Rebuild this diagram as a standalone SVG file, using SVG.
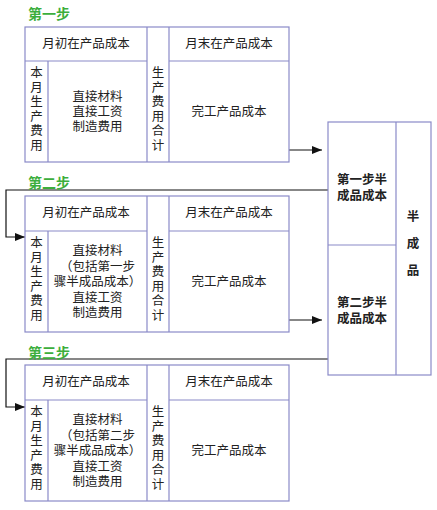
<svg xmlns="http://www.w3.org/2000/svg" width="437" height="510" viewBox="0 0 437 510" xml:lang="zh-CN" lang="zh-CN">
<style>
.b{fill:#fff;stroke:#8a8ac8;stroke-width:1.2}
.l{stroke:#8a8ac8;stroke-width:1.2;fill:none}
.t{font-family:"Liberation Sans","Noto Sans CJK SC",sans-serif;font-size:12.5px;fill:#222;text-anchor:middle;dominant-baseline:central}
.s{font-family:"Liberation Sans","Noto Sans CJK SC",sans-serif;font-size:14px;font-weight:bold;fill:#3cae3c}
.bt{font-weight:bold}
.c{stroke:#111;stroke-width:1.2;fill:none}
</style>
<defs>
<marker id="a" markerWidth="10" markerHeight="8" refX="10" refY="4" orient="auto" markerUnits="userSpaceOnUse">
<path d="M0,0 L10,4 L0,8 Z" fill="#111"/>
</marker>
</defs>
<g id="connectors">
<line class="c" x1="289" y1="150" x2="322" y2="150" marker-end="url(#a)"/>
<polyline class="c" points="328,190 6,190 6,237 25,237" marker-end="url(#a)"/>
<line class="c" x1="289" y1="320" x2="322" y2="320" marker-end="url(#a)"/>
<polyline class="c" points="328,359 6,359 6,407 25,407" marker-end="url(#a)"/>
</g>
<g id="step1">
<text class="s" x="28" y="19">第一步</text>
<rect class="b" x="25" y="27" width="264" height="135"/>
<path class="l" d="M25,61H147M169,61H289M48,61V162M147,27V162M169,27V162"/>
<text class="t" x="86" y="44">月初在产品成本</text>
<text class="t" x="229" y="44">月末在产品成本</text>
<text class="t"><tspan x="36.5" y="73">本</tspan><tspan x="36.5" y="87.6">月</tspan><tspan x="36.5" y="102.2">生</tspan><tspan x="36.5" y="116.8">产</tspan><tspan x="36.5" y="131.4">费</tspan><tspan x="36.5" y="146">用</tspan></text>
<text class="t"><tspan x="158" y="73">生</tspan><tspan x="158" y="87.6">产</tspan><tspan x="158" y="102.2">费</tspan><tspan x="158" y="116.8">用</tspan><tspan x="158" y="131.4">合</tspan><tspan x="158" y="146">计</tspan></text>
<text class="t"><tspan x="97.5" y="97">直接材料</tspan><tspan x="97.5" y="112">直接工资</tspan><tspan x="97.5" y="127">制造费用</tspan></text>
<text class="t" x="229" y="112">完工产品成本</text>
</g>
<g id="step2">
<text class="s" x="28" y="188">第二步</text>
<rect class="b" x="25" y="196" width="264" height="136"/>
<path class="l" d="M25,231H147M169,231H289M48,231V332M147,196V332M169,196V332"/>
<text class="t" x="86" y="213">月初在产品成本</text>
<text class="t" x="229" y="213">月末在产品成本</text>
<text class="t"><tspan x="36.5" y="243">本</tspan><tspan x="36.5" y="257.6">月</tspan><tspan x="36.5" y="272.2">生</tspan><tspan x="36.5" y="286.8">产</tspan><tspan x="36.5" y="301.4">费</tspan><tspan x="36.5" y="316">用</tspan></text>
<text class="t"><tspan x="158" y="243">生</tspan><tspan x="158" y="257.6">产</tspan><tspan x="158" y="272.2">费</tspan><tspan x="158" y="286.8">用</tspan><tspan x="158" y="301.4">合</tspan><tspan x="158" y="316">计</tspan></text>
<text class="t"><tspan x="97.5" y="251">直接材料</tspan><tspan x="97.5" y="266.5">（包括第一步</tspan><tspan x="97.5" y="282">骤半成品成本）</tspan><tspan x="97.5" y="297.5">直接工资</tspan><tspan x="97.5" y="313">制造费用</tspan></text>
<text class="t" x="229" y="282">完工产品成本</text>
</g>
<g id="step3">
<text class="s" x="28" y="358">第三步</text>
<rect class="b" x="25" y="365" width="264" height="136"/>
<path class="l" d="M25,400H147M169,400H289M48,400V501M147,365V501M169,365V501"/>
<text class="t" x="86" y="382">月初在产品成本</text>
<text class="t" x="229" y="382">月末在产品成本</text>
<text class="t"><tspan x="36.5" y="412">本</tspan><tspan x="36.5" y="426.6">月</tspan><tspan x="36.5" y="441.2">生</tspan><tspan x="36.5" y="455.8">产</tspan><tspan x="36.5" y="470.4">费</tspan><tspan x="36.5" y="485">用</tspan></text>
<text class="t"><tspan x="158" y="412">生</tspan><tspan x="158" y="426.6">产</tspan><tspan x="158" y="441.2">费</tspan><tspan x="158" y="455.8">用</tspan><tspan x="158" y="470.4">合</tspan><tspan x="158" y="485">计</tspan></text>
<text class="t"><tspan x="97.5" y="420">直接材料</tspan><tspan x="97.5" y="435.5">（包括第二步</tspan><tspan x="97.5" y="451">骤半成品成本）</tspan><tspan x="97.5" y="466.5">直接工资</tspan><tspan x="97.5" y="482">制造费用</tspan></text>
<text class="t" x="229" y="451">完工产品成本</text>
</g>
<g id="semi">
<rect class="b" x="328" y="122" width="103" height="253"/>
<path class="l" d="M396,122V375M328,245H396"/>
<text class="t bt"><tspan x="362" y="180">第一步半</tspan><tspan x="362" y="196">成品成本</tspan></text>
<text class="t bt"><tspan x="362" y="303">第二步半</tspan><tspan x="362" y="319">成品成本</tspan></text>
<text class="t bt"><tspan x="413" y="217">半</tspan><tspan x="413" y="244">成</tspan><tspan x="413" y="271">品</tspan></text>
</g>
</svg>
